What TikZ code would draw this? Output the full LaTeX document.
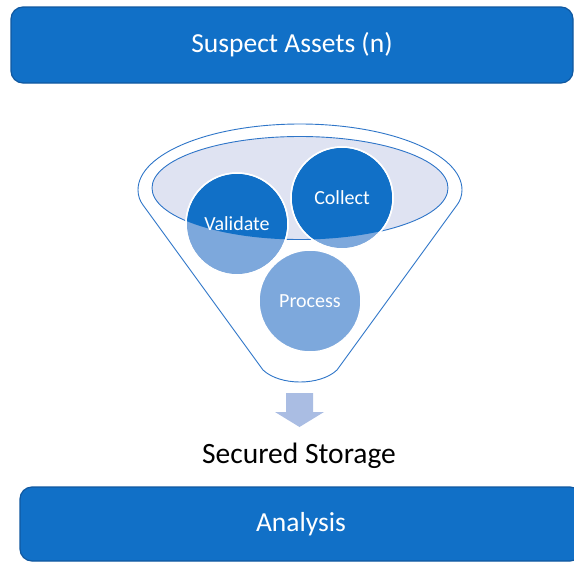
\documentclass[tikz,border=0pt]{standalone}
\usepackage{fontspec}
\setmainfont{Carlito}
\definecolor{boxblue}{RGB}{17,112,199}
\definecolor{boxedge}{RGB}{16,88,160}
\definecolor{lightblue}{RGB}{125,168,220}
\definecolor{funnelfill}{RGB}{223,227,242}
\definecolor{funneledge}{RGB}{46,117,200}
\definecolor{arrowblue}{RGB}{170,189,227}
\tikzset{
  bar/.style={draw=boxedge, line width=1.2pt, fill=boxblue, rounded corners=12pt,
    minimum width=562pt, text=white, font=\fontsize{27.5}{30}\selectfont},
  stage/.style={circle, draw=white, line width=1.5pt, fill=lightblue,
    minimum size=102pt, inner sep=0pt},
  stagetext/.style={text=white, font=\fontsize{20}{22}\selectfont}
}
\begin{document}
\begin{tikzpicture}[x=1pt,y=-1pt]
        \useasboundingbox (0,0) rectangle (574,563);

        % Top and bottom bars
        \node[bar, minimum height=76pt] (assets) at (292,45) {Suspect Assets (n)};
        \node[bar, minimum height=74pt] (analysis) at (301,524) {Analysis};

        % Funnel
        \draw[funneledge, line width=0.9pt] (462,190) arc[start angle=0, end angle=-180, x radius=162, y radius=66]
          .. controls (138,196) and (140,201) .. (143,205) -- (263,370)
          .. controls (280,386) and (320,386) .. (337,370) -- (457,205)
          .. controls (460,201) and (462,196) .. cycle;
        \draw[funneledge, fill=funnelfill, line width=0.9pt] (300,188) ellipse[x radius=148, y radius=51.5];

        % Stages
        \node[stage] (validate) at (237,224) {};
        \node[stage] (collect) at (342,198) {};
        \node[stage] (process) at (310,301) {};
        \begin{scope}
          \clip (300,188) ellipse[x radius=148, y radius=51.5];
          \fill[boxblue] (validate.center) circle[radius=50.2pt];
          \fill[boxblue] (collect.center) circle[radius=50.2pt];
        \end{scope}
        \draw[white, line width=1.5pt] (validate.center) circle[radius=51pt];
        \draw[white, line width=1.5pt] (collect.center) circle[radius=51pt];
        \node[stagetext] at (validate) {Validate};
        \node[stagetext] at (collect) {Collect};
        \node[stagetext] at (process) {Process};

        % Output
        \fill[arrowblue] (286,393) -- (313,393) -- (313,412) -- (324,412) -- (299.5,427)
          -- (275,412) -- (286,412) -- cycle;
        \node[font=\fontsize{29.5}{32}\selectfont] (storage) at (299,456) {Secured Storage};
    \end{tikzpicture}
\end{document}
